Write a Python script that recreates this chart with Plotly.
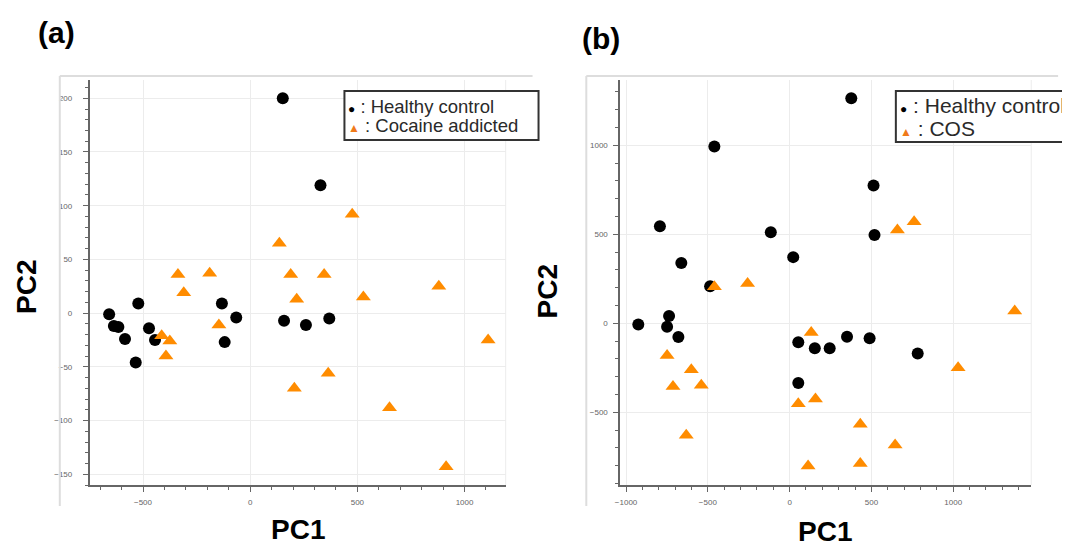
import plotly.graph_objects as go

W, H = 1070, 549

# ---------------- data ----------------
a_hc_x = [-658, -636, -615, -584, -522, -534, -472, -444, -132, -65, -119, 152, 158, 260, 328, 369]
a_hc_y = [-1, -12, -13, -24, 9, -46, -14, -25, 9, -4, -27, 200, -7, -11, 119, -5]
a_ca_x = [-337, -310, -189, -413, -375, -393, -146, 136, 189, 217, 206, 476, 345, 528, 880, 1110, 364, 650, 914]
a_ca_y = [36, 19, 37, -21, -26, -40, -11, 65, 36, 13, -70, 92, 36, 15, 25, -25, -56, -88, -143]

b_hc_x = [-925, -793, -737, -749, -680, -662, -486, -460, -115, 22, 53, 53, 154, 245, 351, 489, 377, 513, 519, 783]
b_hc_y = [-6, 546, 41, -19, -76, 339, 209, 993, 512, 372, -106, -335, -140, -140, -75, -84, 1264, 774, 496, -169]
b_cos_x = [-460, -257, -749, -601, -713, -540, -632, 132, 158, 53, 113, 659, 761, 1376, 1030, 432, 645, 432]
b_cos_y = [205, 224, -181, -261, -354, -348, -629, -52, -425, -451, -801, 524, 571, 69, -249, -567, -684, -787]

a_x_ticks = [-500, 0, 500, 1000]
a_y_ticks = [-150, -100, -50, 0, 50, 100, 150, 200]
b_x_ticks = [-1000, -500, 0, 500, 1000]
b_y_ticks = [-500, 0, 500, 1000]

legend_a = [": Healthy control", ": Cocaine addicted"]
legend_b = [": Healthy control", ": COS"]

# ---------------- styling ----------------
BLACK = "#000000"
ORANGE = "#FF8C00"
FONT = "Arial, Liberation Sans, sans-serif"


def px(x):
    return x / W


def py(y):
    return 1 - y / H


fig = go.Figure()

fig.add_trace(go.Scatter(x=a_hc_x, y=a_hc_y, mode="markers", xaxis="x", yaxis="y",
                         marker=dict(symbol="circle", size=12, color=BLACK), showlegend=False))
fig.add_trace(go.Scatter(x=a_ca_x, y=a_ca_y, mode="markers", xaxis="x", yaxis="y",
                         marker=dict(symbol="triangle-up", size=13, color=ORANGE), showlegend=False))
fig.add_trace(go.Scatter(x=b_hc_x, y=b_hc_y, mode="markers", xaxis="x2", yaxis="y2",
                         marker=dict(symbol="circle", size=12, color=BLACK), showlegend=False))
fig.add_trace(go.Scatter(x=b_cos_x, y=b_cos_y, mode="markers", xaxis="x2", yaxis="y2",
                         marker=dict(symbol="triangle-up", size=13, color=ORANGE), showlegend=False))

AX_COLOR = "#666666"
GRID = "#ececec"


def axis(domain, rng, tickvals, minor_dtick, anchor, standoff):
    return dict(
        domain=domain, range=rng, anchor=anchor,
        tickmode="array", tickvals=tickvals,
        ticks="outside", ticklen=5, tickwidth=1, tickcolor=AX_COLOR,
        showline=True, linecolor=AX_COLOR, linewidth=1.5,
        showgrid=True, gridcolor=GRID, gridwidth=1,
        zeroline=False,
        tickfont=dict(family=FONT, size=8, color="#666666"),
        ticklabelstandoff=standoff,
        minor=dict(dtick=minor_dtick, ticks="outside", ticklen=3, tickcolor=AX_COLOR, showgrid=False),
    )


ydom = [py(477), py(72)]
fig.update_layout(
    width=W, height=H, autosize=False,
    margin=dict(l=0, r=0, t=0, b=0),
    paper_bgcolor="white", plot_bgcolor="white",
    showlegend=False,
    xaxis=axis([px(77), px(495)], [-749, 1192], a_x_ticks, 100, "y", 4),
    yaxis=axis(ydom, [-160, 217], a_y_ticks, 10, "x", 9),
    xaxis2=axis([px(610), px(1023)], [-1036, 1477], b_x_ticks, 100, "y2", 4),
    yaxis2=axis(ydom, [-908, 1367], b_y_ticks, 100, "x2", 4),
)

shapes = []
FRAME = "#dddddd"
# outer light frames (left + top) and right border of plot area
for (lx, tx_end, rx) in [(47, 522, 495), (576, 1050, 1023)]:
    shapes.append(dict(type="line", xref="paper", yref="paper", x0=px(lx), x1=px(lx),
                       y0=py(68), y1=py(498), line=dict(color=FRAME, width=2)))
    shapes.append(dict(type="line", xref="paper", yref="paper", x0=px(lx), x1=px(tx_end),
                       y0=py(68), y1=py(68), line=dict(color=FRAME, width=2)))
    shapes.append(dict(type="line", xref="paper", yref="paper", x0=px(rx), x1=px(rx),
                       y0=py(72), y1=py(477), line=dict(color=GRID, width=1)))
# legend boxes
shapes.append(dict(type="rect", xref="paper", yref="paper", x0=px(333), x1=px(528),
                   y0=py(132), y1=py(83), line=dict(color="#333333", width=2), fillcolor="white"))
shapes.append(dict(type="rect", xref="paper", yref="paper", x0=px(887), x1=px(1085),
                   y0=py(134), y1=py(83), line=dict(color="#333333", width=2), fillcolor="white"))
fig.update_layout(shapes=shapes)

ann = []


def text(x, y, s, size, xanchor="center", angle=0, color="#000000"):
    ann.append(dict(xref="paper", yref="paper", x=px(x), y=py(y), text=s, showarrow=False,
                    xanchor=xanchor, yanchor="middle", textangle=angle,
                    font=dict(family=FONT, size=size, color=color)))


text(44, 24, "<b>(a)</b>", 30)
text(591, 31, "<b>(b)</b>", 30)
text(286, 521, "<b>PC1</b>", 28)
text(816, 523, "<b>PC1</b>", 28)
text(13, 279, "<b>PC2</b>", 28, angle=-90)
text(537, 283, "<b>PC2</b>", 28, angle=-90)

circ = "<span style='font-size:12px;color:#000000'>●</span>"
tri = "<span style='font-size:12px;color:#F07A1A'>▲</span>"
text(335, 98, circ + " " + legend_a[0], 18.5, xanchor="left", color="#2a2a2a")
text(335, 118, tri + " " + legend_a[1], 18.5, xanchor="left", color="#2a2a2a")
text(889, 97, circ + " " + legend_b[0], 21, xanchor="left", color="#2a2a2a")
text(889, 121, tri + " " + legend_b[1], 21, xanchor="left", color="#2a2a2a")

fig.update_layout(annotations=ann)

fig.write_html("out.html")
